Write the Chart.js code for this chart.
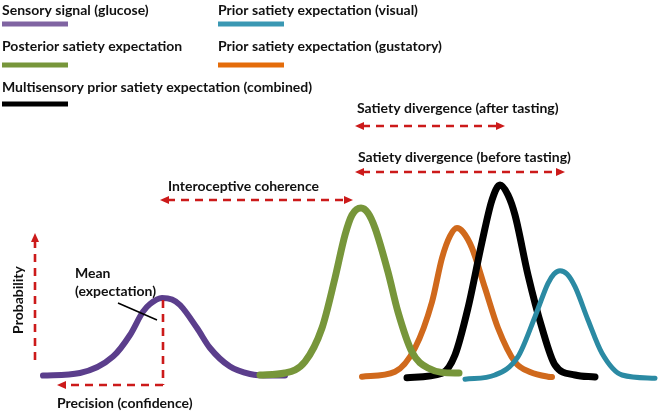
<!DOCTYPE html>
<html><head><meta charset="utf-8">
<script src="https://cdn.jsdelivr.net/npm/chart.js@4/dist/chart.umd.min.js"></script>
<style>html,body{margin:0;padding:0;background:#fff;overflow:hidden}</style>
</head><body>
<canvas id="c" width="660" height="412"></canvas>
<script>
// ---- data (x: satiety scale, y: probability density) ----
const seriesNames = [
  "Sensory signal (glucose)",
  "Posterior satiety expectation",
  "Prior satiety expectation (gustatory)",
  "Multisensory prior satiety expectation (combined)",
  "Prior satiety expectation (visual)"
];
const glucoseX = [4.3, 8.0, 11.3, 13.0, 14.3, 15.0, 16.2, 17.2, 18.0, 19.7, 21.0, 23.0, 25.0, 27.0, 28.5];
const glucoseY = [0.012, 0.025, 0.107, 0.215, 0.332, 0.37, 0.40, 0.392, 0.365, 0.25, 0.15, 0.057, 0.02, 0.012, 0.012];
const posteriorX = [26.0, 28.5, 30.5, 32.2, 33.5, 34.5, 35.2, 36.1, 36.8, 37.5, 38.8, 39.8, 41.2, 42.8, 45.5, 45.9];
const posteriorY = [0.015, 0.025, 0.082, 0.25, 0.50, 0.715, 0.815, 0.85, 0.825, 0.75, 0.53, 0.33, 0.13, 0.05, 0.025, 0.025];
const gustatoryX = [36.2, 39.5, 41.5, 43.2, 44.2, 45.0, 45.7, 46.3, 47.2, 48.5, 49.8, 51.5, 53.0, 54.8, 55.2];
const gustatoryY = [0.0065, 0.0315, 0.15, 0.38, 0.60, 0.71, 0.75, 0.73, 0.65, 0.45, 0.25, 0.08, 0.03, 0.0065, 0.005];
const combinedX = [40.7, 44.2, 45.5, 46.8, 48.2, 49.2, 50.0, 50.8, 51.5, 52.8, 54.2, 55.5, 57.5, 59.5];
const combinedY = [0.0015, 0.0235, 0.115, 0.35, 0.68, 0.89, 0.965, 0.915, 0.815, 0.515, 0.25, 0.065, 0.015, 0.005];
const visualX = [46.5, 49.5, 51.8, 53.5, 54.8, 55.4, 56.0, 56.7, 57.5, 58.8, 60.2, 62.2, 65.5];
const visualY = [-0.0065, 0.015, 0.1065, 0.3065, 0.4735, 0.52, 0.5365, 0.52, 0.4565, 0.29, 0.1235, 0.015, -0.0015];

const annotationLabels = [
  "Satiety divergence (after tasting)",
  "Satiety divergence (before tasting)",
  "Interoceptive coherence",
  "Mean",
  "(expectation)",
  "Precision (confidence)",
  "Probability"
];

const curveColors  = ["#5b3e8c", "#77963a", "#d0691c", "#000000", "#2b8aa3"];
const legendColors = ["#8064a2", "#77963a", "#e46c0a", "#000000", "#3a98b3"];
const widths = [6, 7, 6, 7, 5];

const toPts = (xs, ys) => xs.map((x, i) => ({x, y: ys[i]}));
const allX = [glucoseX, posteriorX, gustatoryX, combinedX, visualX];
const allY = [glucoseY, posteriorY, gustatoryY, combinedY, visualY];
const drawOrder = [5, 1, 4, 3, 2];

const datasets = allX.map((xs, i) => ({
  label: seriesNames[i],
  data: toPts(xs, allY[i]),
  borderColor: curveColors[i],
  borderWidth: widths[i],
  pointRadius: 0,
  showLine: true,
  fill: false,
  cubicInterpolationMode: 'monotone',
  borderCapStyle: 'round',
  borderJoinStyle: 'round',
  order: drawOrder[i],
  clip: false
}));

const FONT = "bold 14px Lato, 'Open Sans', sans-serif";
const RED = "#cc1a1a";

function arrowHead(ctx, x, y, dir) {
  ctx.beginPath();
  if (dir === 'r') { ctx.moveTo(x, y); ctx.lineTo(x - 9, y - 4); ctx.lineTo(x - 9, y + 4); }
  if (dir === 'l') { ctx.moveTo(x, y); ctx.lineTo(x + 9, y - 4); ctx.lineTo(x + 9, y + 4); }
  if (dir === 'u') { ctx.moveTo(x, y); ctx.lineTo(x - 4, y + 9); ctx.lineTo(x + 4, y + 9); }
  ctx.closePath();
  ctx.fill();
}
function dashed(ctx, x1, y1, x2, y2) {
  ctx.save();
  ctx.setLineDash([8, 6]);
  ctx.lineWidth = 2.6;
  ctx.strokeStyle = RED;
  ctx.beginPath(); ctx.moveTo(x1, y1); ctx.lineTo(x2, y2); ctx.stroke();
  ctx.restore();
}

const decor = {
  id: 'decor',
  afterDatasetsDraw(chart) {
    const ctx = chart.ctx;
    ctx.save();
    ctx.font = FONT;
    ctx.fillStyle = "#111";
    ctx.textBaseline = "middle";
    ctx.textAlign = "left";
    const leg = [
      {i: 0, x: 2, ty: 10, ly: 24},
      {i: 4, x: 218, ty: 10, ly: 24},
      {i: 1, x: 2, ty: 46, ly: 65},
      {i: 2, x: 218, ty: 46, ly: 65},
      {i: 3, x: 2, ty: 87, ly: 104}
    ];
    leg.forEach(l => {
      ctx.fillStyle = "#111";
      ctx.fillText(seriesNames[l.i], l.x, l.ty);
      ctx.fillStyle = legendColors[l.i];
      ctx.fillRect(l.x, l.ly - 2.5, 66, 5);
    });
    ctx.fillStyle = "#111";
    ctx.fillText(annotationLabels[0], 357, 108);
    ctx.fillText(annotationLabels[1], 358, 157);
    ctx.fillText(annotationLabels[2], 168, 186);
    ctx.fillText(annotationLabels[3], 75, 273);
    ctx.fillText(annotationLabels[4], 75, 291);
    ctx.fillText(annotationLabels[5], 57, 403);
    ctx.save();
    ctx.translate(18, 300);
    ctx.rotate(-Math.PI / 2);
    ctx.textAlign = "center";
    ctx.fillText(annotationLabels[6], 0, 0);
    ctx.restore();
    ctx.fillStyle = RED;
    dashed(ctx, 362, 126, 497, 126); arrowHead(ctx, 355, 126, 'l'); arrowHead(ctx, 505, 126, 'r');
    dashed(ctx, 362, 172, 557, 172); arrowHead(ctx, 355, 172, 'l'); arrowHead(ctx, 565, 172, 'r');
    dashed(ctx, 167, 200, 345, 200); arrowHead(ctx, 160, 200, 'l'); arrowHead(ctx, 353, 200, 'r');
    dashed(ctx, 35, 360, 35, 242); arrowHead(ctx, 35, 233, 'u');
    dashed(ctx, 163, 300, 163, 385);
    dashed(ctx, 163, 385, 65, 385); arrowHead(ctx, 57, 385, 'l');
    ctx.strokeStyle = "#000"; ctx.lineWidth = 1.5;
    ctx.beginPath(); ctx.moveTo(118, 303); ctx.lineTo(157, 320); ctx.stroke();
    ctx.restore();
  }
};

new Chart(document.getElementById('c'), {
  type: 'scatter',
  data: { datasets },
  options: {
    responsive: false,
    animation: false,
    layout: { padding: 0 },
    plugins: { legend: { display: false }, tooltip: { enabled: false } },
    scales: {
      x: { type: 'linear', display: false, min: 0, max: 66 },
      y: { type: 'linear', display: false, min: -0.17, max: 1.89 }
    }
  },
  plugins: [decor]
});
</script>
</body></html>
